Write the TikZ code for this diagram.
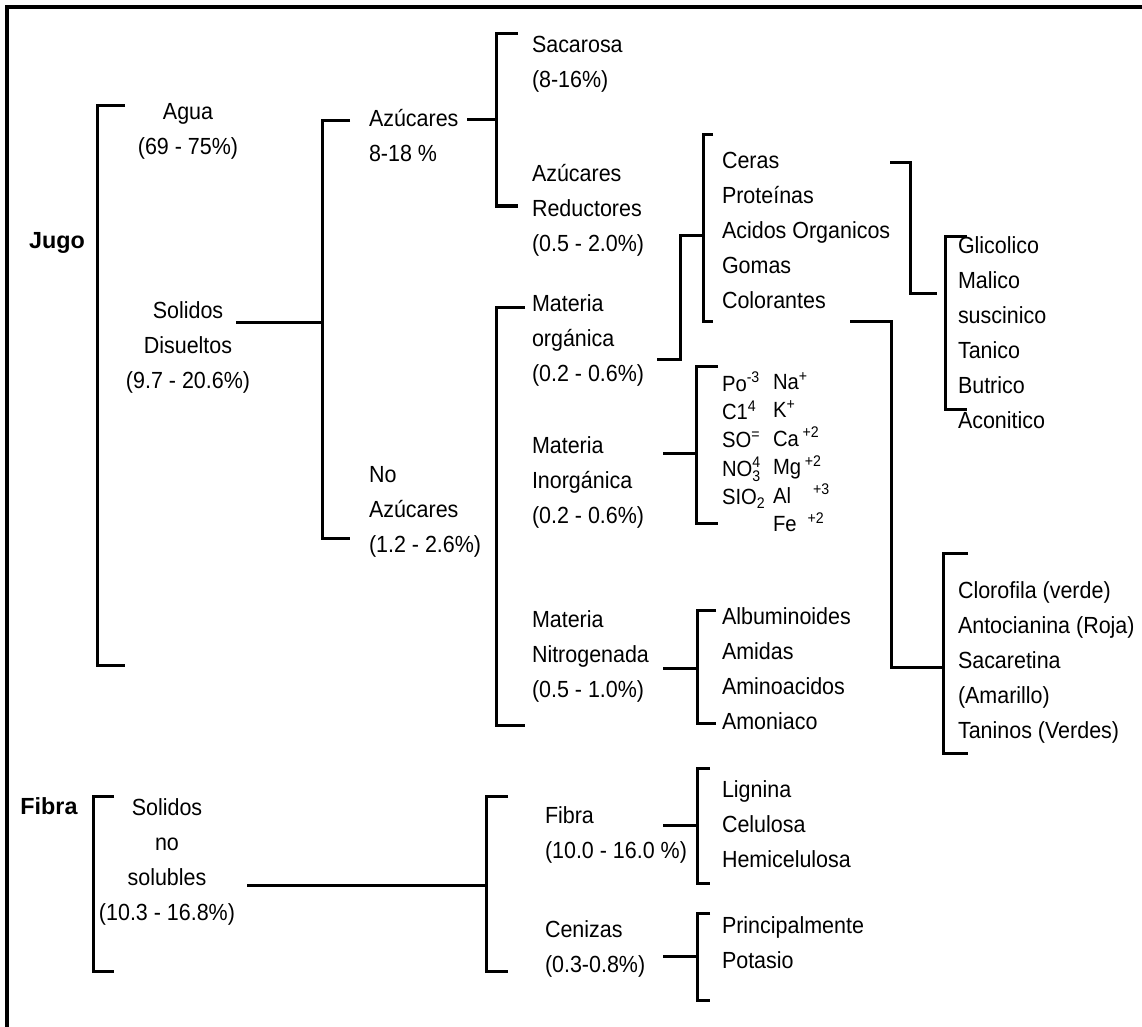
\documentclass[tikz,border=0pt]{standalone}
\usepackage{fontspec}
\setmainfont[FakeStretch=0.92]{Liberation Sans}
\newfontfamily\headfont{Liberation Sans}
% small digit in the text font, for use inside math scripts
\newcommand{\scriptdigit}[1]{\mbox{\fontsize{11.5}{11.5}\selectfont #1}}
\begin{document}
\begin{tikzpicture}[x=0.75pt,y=-0.75pt,
  ln/.style={line width=2.25pt},
  frame/.style={line width=3pt},
  lbl/.style={inner sep=0pt, outer sep=0pt, align=left, anchor=west,
    font=\fontsize{17.5}{26.25}\selectfont},
  clbl/.style={inner sep=0pt, outer sep=0pt, align=center,
    font=\fontsize{17.5}{26.25}\selectfont},
  head/.style={inner sep=0pt, outer sep=0pt, font=\headfont\bfseries\fontsize{17.5}{20}\selectfont},
  ion/.style={inner sep=0pt, outer sep=0pt, align=left, anchor=west,
    font=\fontsize{16.5}{21.3}\selectfont}]
\useasboundingbox (0,0) rectangle (1142,1027);
% open frame: top and left edges
\draw[frame] (7,1027) -- (7,7) -- (1142,7);

% ---------- text blocks ----------
\node[head] (jugo) at (57,243) {Jugo};
\node[head] (fibrah) at (49,806) {Fibra};
\node[clbl] (agua) at (188,131) {Agua\\(69 - 75\%)};
\node[clbl] (soldis) at (188,347) {Solidos\\Disueltos\\(9.7 - 20.6\%)};
\node[lbl] (azu) at (369,136) {Azúcares\\8-18 \%};
\node[lbl] (noazu) at (369,512) {No\\Azúcares\\(1.2 - 2.6\%)};
\node[lbl] (sac) at (532,64) {Sacarosa\\(8-16\%)};
\node[lbl] (red) at (532,210) {Azúcares\\Reductores\\(0.5 - 2.0\%)};
\node[lbl] (morg) at (532,340) {Materia\\orgánica\\(0.2 - 0.6\%)};
\node[lbl] (minorg) at (532,482) {Materia\\Inorgánica\\(0.2 - 0.6\%)};
\node[lbl] (mnit) at (532,656) {Materia\\Nitrogenada\\(0.5 - 1.0\%)};
\node[lbl] (ceras) at (722,230) {Ceras\\Proteínas\\Acidos Organicos\\Gomas\\Colorantes};
\node[lbl] (acidos) at (958,333) {Glicolico\\Malico\\suscinico\\Tanico\\Butrico\\Aconitico};
\node[lbl] (color) at (958,662) {Clorofila (verde)\\Antocianina (Roja)\\Sacaretina\\(Amarillo)\\Taninos (Verdes)};
\node[lbl] (nitro) at (722,669) {Albuminoides\\Amidas\\Aminoacidos\\Amoniaco};
\node[ion] (anion) at (722,440) {Po\textsuperscript{-3}\\C1\textsuperscript{4}\\SO\textsuperscript{=}\\NO$^{\scriptdigit{4}}_{\scriptdigit{3}}$\\SIO\textsubscript{2}};
\node[ion] (cation) at (773,452) {Na\textsuperscript{+}\\K\textsuperscript{+}\\Ca\,\textsuperscript{+2}\\Mg\,\textsuperscript{+2}\\Al\quad\textsuperscript{+3}\\Fe\enspace\textsuperscript{+2}};
\node[clbl] (solnos) at (167,862) {Solidos\\no\\solubles\\(10.3 - 16.8\%)};
\node[lbl] (fibra) at (545,835) {Fibra\\(10.0 - 16.0 \%)};
\node[lbl] (ceniz) at (545,949) {Cenizas\\(0.3-0.8\%)};
\node[lbl] (fibcomp) at (722,824) {Lignina\\Celulosa\\Hemicelulosa};
\node[lbl] (cencomp) at (722,943) {Principalmente\\Potasio};

% ---------- bracket junctions ----------
\coordinate (jSol) at (322,322);
\coordinate (jAzu) at (496,120);
\coordinate (jOrg) at (703,235);
\coordinate (jCol) at (943,667);
\coordinate (jInorg) at (696,453);
\coordinate (jNit) at (697,668);
\coordinate (jSns) at (486,885);
\coordinate (jFib) at (697,825);
\coordinate (jCen) at (697,956);

% ---------- brackets ----------
\draw[ln] (125,106) -- (97,106) -- (97,665) -- (125,665);
\draw[ln] (350,121) -- (322,121) -- (322,538) -- (350,538);
\draw[ln] (518,34) -- (496,34) -- (496,206) -- (518,206);
\draw[ln] (525,307) -- (496,307) -- (496,725) -- (525,725);
\draw[ln] (713,135) -- (703,135) -- (703,321) -- (713,321);
\draw[ln] (967,236) -- (945,236) -- (945,409) -- (967,409);
\draw[ln] (968,553) -- (943,553) -- (943,753) -- (968,753);
\draw[ln] (718,366) -- (696,366) -- (696,523) -- (718,523);
\draw[ln] (716,610) -- (697,610) -- (697,723) -- (716,723);
\draw[ln] (114,796) -- (93,796) -- (93,971) -- (114,971);
\draw[ln] (508,796) -- (486,796) -- (486,971) -- (508,971);
\draw[ln] (710,768) -- (697,768) -- (697,883) -- (710,883);
\draw[ln] (710,913) -- (697,913) -- (697,1000) -- (710,1000);

% ---------- connectors ----------
\draw[ln] (236,322) -- (jSol);
\draw[ln] (467,120) -- (jAzu);
\draw[ln] (657,359) -- (680,359) -- (680,235) -- (jOrg);
\draw[ln] (890,163) -- (910,163) -- (910,293) -- (937,293);
\draw[ln] (850,321) -- (891,321) -- (891,667) -- (jCol);
\draw[ln] (663,453) -- (jInorg);
\draw[ln] (663,668) -- (jNit);
\draw[ln] (247,885) -- (jSns);
\draw[ln] (663,825) -- (jFib);
\draw[ln] (663,956) -- (jCen);
\end{tikzpicture}
\end{document}
